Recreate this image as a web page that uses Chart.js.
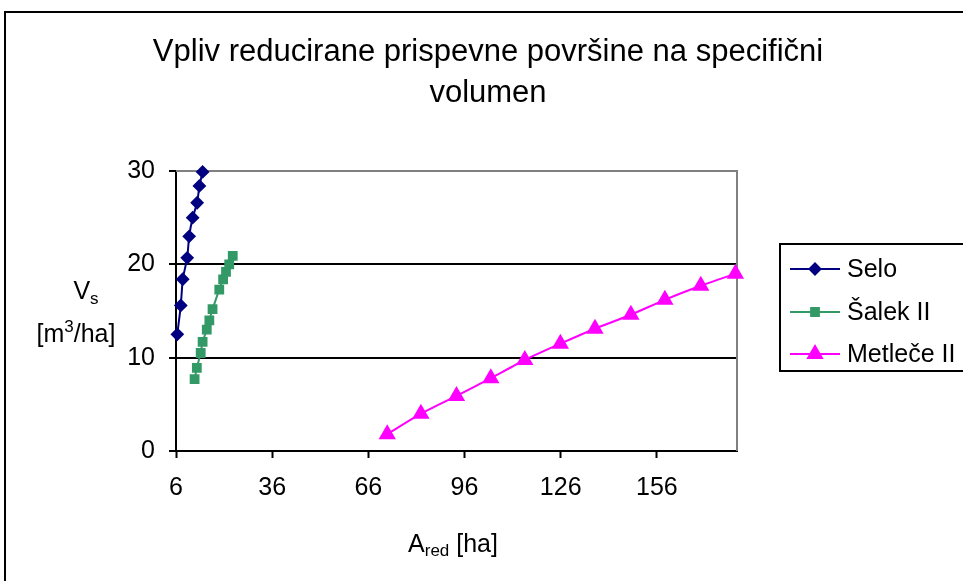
<!DOCTYPE html>
<html>
<head>
<meta charset="utf-8">
<script src="https://cdn.jsdelivr.net/npm/chart.js@4"></script>
<style>
  html, body { margin: 0; padding: 0; background: #fff; }
  #wrap { width: 963px; height: 581px; }
</style>
</head>
<body>
<div id="wrap"><canvas id="chart" width="963" height="581"></canvas></div>
<script>
// --- DATA ---
const seloX = [6.4, 7.5, 8.1, 9.5, 10.1, 11.2, 12.6, 13.3, 14.3];
const seloY = [12.5, 15.6, 18.4, 20.7, 23.0, 25.0, 26.6, 28.4, 29.9];

const salekX = [11.8, 12.5, 13.7, 14.3, 15.6, 16.4, 17.4, 19.5, 20.7, 21.6, 22.6, 23.7];
const salekY = [7.7, 8.9, 10.5, 11.7, 13.0, 14.0, 15.2, 17.3, 18.4, 19.2, 20.0, 20.9];

const metleceX = [71.9, 82.4, 93.5, 104.2, 114.8, 125.9, 136.7, 147.9, 158.5, 169.7, 180.5];
const metleceY = [1.8, 4.0, 5.9, 7.8, 9.75, 11.5, 13.1, 14.6, 16.2, 17.7, 19.0];

const seriesNames = ['Selo', 'Šalek II', 'Metleče II'];
const xTicks = [6, 36, 66, 96, 126, 156];
const yTicks = [0, 10, 20, 30];

const FONT = '"Liberation Sans", Arial, sans-serif';
const BIG = 25, SMALL = 17;

const toPoints = (xs, ys) => xs.map((x, i) => ({ x: x, y: ys[i] }));

// draws text pieces in a row, each with its own size and vertical shift
function drawRich(ctx, parts, cx, baseY) {
    let total = 0;
    parts.forEach(p => {
        ctx.font = p.size + 'px ' + FONT;
        p.w = ctx.measureText(p.text).width;
        total += p.w;
    });
    let x = cx - total / 2;
    parts.forEach(p => {
        ctx.font = p.size + 'px ' + FONT;
        ctx.fillText(p.text, x, baseY + (p.dy || 0));
        x += p.w;
    });
}

// --- TITLE, AXIS TITLES, FRAME AND LEGEND ---
const decorations = {
    id: 'decorations',
    beforeDraw(chart) {
        const ctx = chart.ctx;
        ctx.save();
        ctx.fillStyle = '#fff';
        ctx.fillRect(0, 0, chart.width, chart.height);
        // outer frame
        ctx.strokeStyle = '#000';
        ctx.lineWidth = 2;
        ctx.strokeRect(5, 12, 1100, 1000);
        ctx.restore();
    },
    beforeDatasetsDraw(chart) {
        const ctx = chart.ctx;
        const area = chart.chartArea;
        // plot area border (top / right)
        ctx.save();
        ctx.strokeStyle = '#808080';
        ctx.lineWidth = 2;
        ctx.beginPath();
        ctx.moveTo(area.left, area.top);
        ctx.lineTo(area.right, area.top);
        ctx.lineTo(area.right, area.bottom);
        ctx.stroke();
        ctx.restore();
    },
    afterDraw(chart) {
        const ctx = chart.ctx;
        ctx.save();

        // title
        ctx.fillStyle = '#000';
        ctx.textAlign = 'center';
        ctx.textBaseline = 'middle';
        ctx.font = '31px ' + FONT;
        ctx.fillText('Vpliv reducirane prispevne površine na specifični', 488, 52);
        ctx.fillText('volumen', 488, 93);

        // axis titles with sub/superscripts
        ctx.textAlign = 'left';
        ctx.textBaseline = 'alphabetic';
        drawRich(ctx, [
            { text: 'A', size: BIG },
            { text: 'red', size: SMALL, dy: 4 },
            { text: ' [ha]', size: BIG }
        ], 453, 552);
        drawRich(ctx, [
            { text: 'V', size: BIG },
            { text: 's', size: SMALL, dy: 5 }
        ], 86, 299);
        drawRich(ctx, [
            { text: '[m', size: BIG },
            { text: '3', size: SMALL, dy: -10 },
            { text: '/ha]', size: BIG }
        ], 76, 342);

        // legend
        ctx.strokeStyle = '#000';
        ctx.lineWidth = 2;
        ctx.strokeRect(780, 244, 300, 127);
        ctx.textBaseline = 'middle';
        ctx.font = BIG + 'px ' + FONT;
        const rows = [269, 312, 354];
        chart.data.datasets.forEach((ds, i) => {
            const y = rows[i];
            ctx.strokeStyle = ds.borderColor;
            ctx.lineWidth = 2;
            ctx.beginPath();
            ctx.moveTo(790, y);
            ctx.lineTo(840, y);
            ctx.stroke();
            ctx.fillStyle = ds.pointBackgroundColor;
            ctx.strokeStyle = ds.pointBackgroundColor;
            Chart.helpers.drawPoint(ctx, {
                pointStyle: ds.pointStyle,
                rotation: 0,
                radius: ds.pointRadius,
                borderWidth: 1
            }, 815, y);
            ctx.fillStyle = '#000';
            ctx.fillText(ds.label, 847, y + 1);
        });

        ctx.restore();
    }
};

const ctx = document.getElementById('chart').getContext('2d');
new Chart(ctx, {
    type: 'scatter',
    data: {
        datasets: [
            {
                label: seriesNames[0],
                data: toPoints(seloX, seloY),
                showLine: true,
                borderColor: '#000080',
                backgroundColor: '#000080',
                pointBackgroundColor: '#000080',
                pointBorderColor: '#000080',
                pointStyle: 'rectRot',
                pointRadius: 5.5,
                borderWidth: 2,
                tension: 0.15,
                clip: false
            },
            {
                label: seriesNames[1],
                data: toPoints(salekX, salekY),
                showLine: true,
                borderColor: '#339966',
                backgroundColor: '#339966',
                pointBackgroundColor: '#339966',
                pointBorderColor: '#339966',
                pointStyle: 'rect',
                pointRadius: 5.5,
                borderWidth: 2,
                tension: 0.15,
                clip: false
            },
            {
                label: seriesNames[2],
                data: toPoints(metleceX, metleceY),
                showLine: true,
                borderColor: '#ff00ff',
                backgroundColor: '#ff00ff',
                pointBackgroundColor: '#ff00ff',
                pointBorderColor: '#ff00ff',
                pointStyle: 'triangle',
                pointRadius: 8,
                borderWidth: 2,
                tension: 0.2,
                clip: false
            }
        ]
    },
    options: {
        responsive: false,
        animation: false,
        layout: { padding: { left: 96, top: 171, right: 226, bottom: 72 } },
        plugins: {
            legend: { display: false },
            title: { display: false },
            tooltip: { enabled: false }
        },
        scales: {
            x: {
                type: 'linear',
                min: 6,
                max: 181,
                afterBuildTicks: scale => {
                    scale.ticks = xTicks.map(v => ({ value: v }));
                },
                afterFit: scale => { scale.height = 58; },
                border: { color: '#000', width: 2 },
                grid: {
                    drawOnChartArea: false,
                    drawTicks: true,
                    tickLength: 7,
                    tickWidth: 2,
                    tickColor: '#000'
                },
                ticks: {
                    color: '#000',
                    font: { family: FONT, size: BIG },
                    padding: 15,
                    maxRotation: 0,
                    autoSkip: false
                }
            },
            y: {
                type: 'linear',
                min: 0,
                max: 30,
                afterBuildTicks: scale => {
                    scale.ticks = yTicks.map(v => ({ value: v }));
                },
                afterFit: scale => { scale.width = 80; },
                border: { color: '#000', width: 2 },
                grid: {
                    color: c => (c.tick && c.tick.value === 30 ? '#808080' : '#000'),
                    lineWidth: 2,
                    tickLength: 7,
                    tickWidth: 2,
                    tickColor: '#000'
                },
                ticks: {
                    color: '#000',
                    font: { family: FONT, size: BIG },
                    padding: 14
                }
            }
        }
    },
    plugins: [decorations]
});
</script>
</body>
</html>
